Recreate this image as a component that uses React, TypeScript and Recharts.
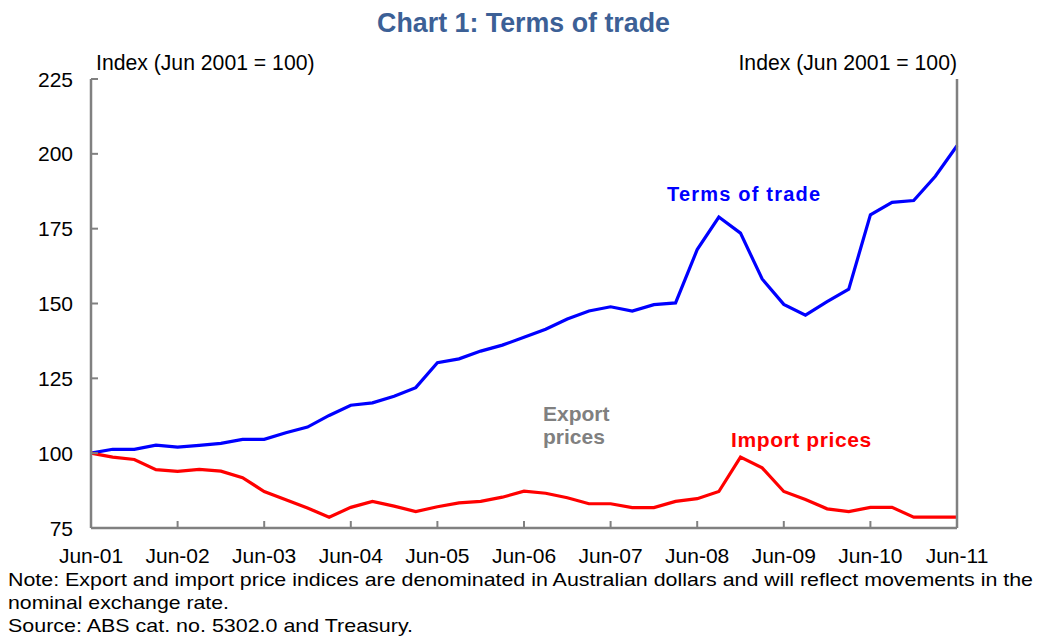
import React from 'react';
import { LineChart, Line, XAxis, YAxis } from 'recharts';

const quarters = [
  'Jun-01', 'Sep-01', 'Dec-01', 'Mar-02', 'Jun-02', 'Sep-02', 'Dec-02', 'Mar-03',
  'Jun-03', 'Sep-03', 'Dec-03', 'Mar-04', 'Jun-04', 'Sep-04', 'Dec-04', 'Mar-05',
  'Jun-05', 'Sep-05', 'Dec-05', 'Mar-06', 'Jun-06', 'Sep-06', 'Dec-06', 'Mar-07',
  'Jun-07', 'Sep-07', 'Dec-07', 'Mar-08', 'Jun-08', 'Sep-08', 'Dec-08', 'Mar-09',
  'Jun-09', 'Sep-09', 'Dec-09', 'Mar-10', 'Jun-10', 'Sep-10', 'Dec-10', 'Mar-11',
  'Jun-11',
];

const termsOfTrade = [
  100, 101.3, 101.3, 102.7, 102.0, 102.6, 103.3, 104.6,
  104.6, 106.8, 108.7, 112.6, 116.0, 116.8, 119.0, 121.9,
  130.2, 131.5, 134.1, 136.1, 138.7, 141.4, 144.8, 147.5,
  148.9, 147.5, 149.6, 150.2, 168.0, 178.9, 173.5, 158.2,
  149.7, 146.1, 150.6, 154.8, 179.6, 183.8, 184.4, 192.5,
  202.7,
];

const importPrices = [
  100, 98.7, 97.9, 94.5, 93.9, 94.6, 94.0, 91.8,
  87.2, 84.4, 81.7, 78.6, 81.9, 83.9, 82.3, 80.5,
  82.1, 83.4, 83.9, 85.3, 87.3, 86.6, 85.1, 83.1,
  83.1, 81.8, 81.8, 83.9, 84.8, 87.2, 98.7, 95.1,
  87.2, 84.5, 81.4, 80.5, 81.9, 81.9, 78.6, 78.6,
  78.6,
];

const yTicks = [75, 100, 125, 150, 175, 200, 225];

const data = quarters.map((q, i) => ({ q, tot: termsOfTrade[i], imp: importPrices[i] }));

const FONT = '"Liberation Sans", Arial, Helvetica, sans-serif';
const AXIS = '#808080';
const LM = 18;
const RM = 21;
const BM = 20;
const TL = 7;
const TICK_FS = 21;

const LeftTick = (props: any) => {
  const { x, y, payload } = props;
  return (
    <g>
      <line x1={x + LM} y1={y} x2={x + LM + TL} y2={y} stroke={AXIS} strokeWidth={2} />
      <text x={x} y={y} dy="0.36em" textAnchor="end" fontFamily={FONT} fontSize={TICK_FS} fill="#000">
        {payload.value}
      </text>
    </g>
  );
};

const RightTick = (props: any) => {
  const { x, y, payload } = props;
  return (
    <g>
      <line x1={x - RM} y1={y} x2={x - RM - TL} y2={y} stroke={AXIS} strokeWidth={2} />
      <text x={x} y={y} dy="0.36em" textAnchor="start" fontFamily={FONT} fontSize={TICK_FS} fill="#000">
        {payload.value}
      </text>
    </g>
  );
};

const BottomTick = (props: any) => {
  const { x, y, payload } = props;
  return (
    <g>
      <line x1={x} y1={y - BM} x2={x} y2={y - BM - TL} stroke={AXIS} strokeWidth={2} />
      <text x={x} y={y} dy="0.7em" textAnchor="middle" fontFamily={FONT} fontSize={TICK_FS} fill="#000">
        {payload.value}
      </text>
    </g>
  );
};

export default function App() {
  return (
    <div style={{ position: 'absolute', left: 0, top: 0, width: 1043, height: 641, background: '#fff' }}>
      <div style={{ position: 'absolute', left: 0, top: 0 }}>
        <LineChart width={1043} height={575} data={data} margin={{ top: 79, right: 0, bottom: 0, left: 0 }}>
          <XAxis
            dataKey="q"
            interval={3}
            height={47}
            tickSize={0}
            tickMargin={BM}
            tick={<BottomTick />}
            axisLine={{ stroke: AXIS, strokeWidth: 2.5 }}
            tickLine={false}
          />
          <YAxis
            yAxisId="left"
            orientation="left"
            width={91}
            domain={[75, 225]}
            ticks={yTicks}
            interval={0}
            tickSize={0}
            tickMargin={LM}
            tick={<LeftTick />}
            axisLine={{ stroke: AXIS, strokeWidth: 2.5 }}
            tickLine={false}
          />
          <YAxis
            yAxisId="right"
            orientation="right"
            width={86}
            domain={[75, 225]}
            ticks={yTicks}
            interval={0}
            tickSize={0}
            tickMargin={RM}
            tick={<RightTick />}
            axisLine={{ stroke: AXIS, strokeWidth: 2.5 }}
            tickLine={false}
          />
          <Line
            yAxisId="left"
            type="linear"
            dataKey="tot"
            stroke="#0000ff"
            strokeWidth={3.2}
            dot={false}
            isAnimationActive={false}
          />
          <Line
            yAxisId="left"
            type="linear"
            dataKey="imp"
            stroke="#ff0000"
            strokeWidth={3.2}
            dot={false}
            isAnimationActive={false}
          />
        </LineChart>
      </div>
      <svg
        width={1043}
        height={641}
        style={{ position: 'absolute', left: 0, top: 0, pointerEvents: 'none' }}
        fontFamily={FONT}
      >
        <text x={523.5} y={32} textAnchor="middle" fontSize={26.8} fontWeight="bold" fill="#3c6096">
          Chart 1: Terms of trade
        </text>
        <text x={96} y={70} fontSize={21.2} fill="#000">Index (Jun 2001 = 100)</text>
        <text x={957} y={70} fontSize={21.2} fill="#000" textAnchor="end">Index (Jun 2001 = 100)</text>
        <text x={667} y={200.5} fontSize={20} fontWeight="bold" fill="#0000ff" letterSpacing={1.2}>
          Terms of trade
        </text>
        <text x={543} y={420.5} fontSize={21} fontWeight="bold" fill="#808080">Export</text>
        <text x={543} y={444} fontSize={21} fontWeight="bold" fill="#808080">prices</text>
        <text x={731} y={446.5} fontSize={21} fontWeight="bold" fill="#ff0000" letterSpacing={0.6}>
          Import prices
        </text>
        <text x={8} y={586} fontSize={19} fill="#000" textLength={1025} lengthAdjust="spacingAndGlyphs">
          Note: Export and import price indices are denominated in Australian dollars and will reflect movements in the
        </text>
        <text x={8} y={609} fontSize={19} fill="#000" textLength={221} lengthAdjust="spacingAndGlyphs">
          nominal exchange rate.
        </text>
        <text x={8} y={632} fontSize={19} fill="#000" textLength={405} lengthAdjust="spacingAndGlyphs">
          Source: ABS cat. no. 5302.0 and Treasury.
        </text>
      </svg>
    </div>
  );
}
